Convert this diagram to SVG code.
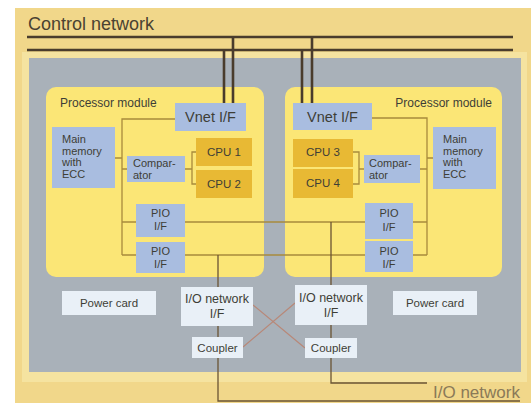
<svg xmlns="http://www.w3.org/2000/svg" width="531" height="403" viewBox="0 0 531 403">
<style>
text{font-family:"Liberation Sans",Arial,sans-serif;fill:#3e3e36}
.blue{fill:#a9bde0}
.cpu{fill:#e8b934}
.lt{fill:#e9f0f7}
.mod{fill:#fbe676}
.ln{stroke:#a88a3c;stroke-width:1.3;fill:none}
.cn{stroke:#4a3c2c;stroke-width:2.6;fill:none}
.io{stroke:#6a5434;stroke-width:1.3;fill:none}
.x{stroke:#b88878;stroke-width:1.2;fill:none}
.s11{font-size:11px}
.s12{font-size:12px}
</style>
<rect x="0" y="0" width="531" height="403" fill="#ffffff"/>
<rect x="15" y="8" width="516" height="395" fill="#f1d78a"/>
<rect x="22" y="52" width="505" height="330" fill="#f5e3a0"/>
<rect x="29" y="58" width="492" height="314" fill="#a9b1b9"/>
<text x="28" y="30" style="font-size:18px;fill:#4a4232">Control network</text>
<text x="433" y="398" style="font-size:17px;fill:#8a7a58">I/O network</text>

<g id="module-left">
<rect class="mod" x="46" y="87" width="218" height="190" rx="10"/>
<text class="s12" x="60" y="107">Processor module</text>
</g>
<g id="module-right">
<rect class="mod" x="285" y="87" width="217" height="190" rx="10"/>
<text class="s12" x="492" y="107" text-anchor="end">Processor module</text>
</g>

<g id="connectors">
<path class="cn" d="M27 37H513M27 50H513"/>
<path class="cn" d="M233 37V103M224 50V103M312 37V103M302 50V103"/>
<path class="ln" d="M175 119H122V255M115 158H122M127 169H122M185 169H192M196 152H192V184H196"/>
<path class="ln" d="M122 222H136M122 255H136M185 222H365M185 255H365"/>
<path class="ln" d="M372 118H427V255M433 158H427M420 169H427M353 152H359V184H353M359 169H364M413 222H427M413 255H427"/>
<path class="io" d="M218 255V401H520M331 222V383H427"/>
<path class="x" d="M253 305L305 348M243 347L295 303"/>
</g>

<g id="vnet-left"><rect class="blue" x="175" y="103" width="71" height="28"/><text x="210.5" y="122" text-anchor="middle" style="font-size:14.5px">Vnet I/F</text></g>
<g id="mem-left"><rect class="blue" x="52" y="127" width="63" height="61"/><text class="s11" x="62" y="143">Main</text><text class="s11" x="62" y="155">memory</text><text class="s11" x="62" y="166">with</text><text class="s11" x="62" y="178">ECC</text></g>
<g id="comp-left"><rect class="blue" x="127" y="156" width="58" height="26"/><text class="s11" x="133" y="167">Compar-</text><text class="s11" x="133" y="179">ator</text></g>
<g id="cpu1"><rect class="cpu" x="196" y="138" width="56" height="28"/><text x="224" y="156" text-anchor="middle" style="font-size:11.5px">CPU 1</text></g>
<g id="cpu2"><rect class="cpu" x="196" y="170" width="56" height="28"/><text x="224" y="188" text-anchor="middle" style="font-size:11.5px">CPU 2</text></g>
<g id="pio1-left"><rect class="blue" x="136" y="204" width="49" height="33"/><text class="s11" x="160.5" y="217" text-anchor="middle">PIO</text><text class="s11" x="160.5" y="230" text-anchor="middle">I/F</text></g>
<g id="pio2-left"><rect class="blue" x="136" y="242" width="49" height="31"/><text class="s11" x="160.5" y="255" text-anchor="middle">PIO</text><text class="s11" x="160.5" y="268" text-anchor="middle">I/F</text></g>

<g id="vnet-right"><rect class="blue" x="293" y="103" width="79" height="27"/><text x="332.5" y="122" text-anchor="middle" style="font-size:14.5px">Vnet I/F</text></g>
<g id="mem-right"><rect class="blue" x="433" y="127" width="63" height="62"/><text class="s11" x="443" y="143">Main</text><text class="s11" x="443" y="155">memory</text><text class="s11" x="443" y="166">with</text><text class="s11" x="443" y="178">ECC</text></g>
<g id="comp-right"><rect class="blue" x="364" y="155" width="56" height="28"/><text class="s11" x="369" y="167">Compar-</text><text class="s11" x="369" y="179">ator</text></g>
<g id="cpu3"><rect class="cpu" x="293" y="139" width="60" height="28"/><text x="323" y="156" text-anchor="middle" style="font-size:11.5px">CPU 3</text></g>
<g id="cpu4"><rect class="cpu" x="293" y="169" width="60" height="29"/><text x="323" y="187" text-anchor="middle" style="font-size:11.5px">CPU 4</text></g>
<g id="pio1-right"><rect class="blue" x="365" y="203" width="48" height="36"/><text class="s11" x="389" y="217" text-anchor="middle">PIO</text><text class="s11" x="389" y="231" text-anchor="middle">I/F</text></g>
<g id="pio2-right"><rect class="blue" x="365" y="241" width="48" height="31"/><text class="s11" x="389" y="255" text-anchor="middle">PIO</text><text class="s11" x="389" y="268" text-anchor="middle">I/F</text></g>

<g id="power-left"><rect class="lt" x="62" y="291" width="94" height="24"/><text x="109" y="307" text-anchor="middle" style="font-size:11.5px">Power card</text></g>
<g id="power-right"><rect class="lt" x="393" y="291" width="84" height="24"/><text x="435" y="307" text-anchor="middle" style="font-size:11.5px">Power card</text></g>
<g id="iof-left"><rect class="lt" x="181" y="287" width="72" height="39"/><text x="217" y="303" text-anchor="middle" style="font-size:12.5px">I/O network</text><text x="217" y="318" text-anchor="middle" style="font-size:12.5px">I/F</text></g>
<g id="iof-right"><rect class="lt" x="295" y="285" width="72" height="40"/><text x="331" y="302" text-anchor="middle" style="font-size:12.5px">I/O network</text><text x="331" y="317" text-anchor="middle" style="font-size:12.5px">I/F</text></g>
<g id="coupler-left"><rect class="lt" x="192" y="337" width="51" height="21"/><text x="217.5" y="352" text-anchor="middle" style="font-size:11.5px">Coupler</text></g>
<g id="coupler-right"><rect class="lt" x="305" y="338" width="52" height="20"/><text x="331" y="352" text-anchor="middle" style="font-size:11.5px">Coupler</text></g>
</svg>
